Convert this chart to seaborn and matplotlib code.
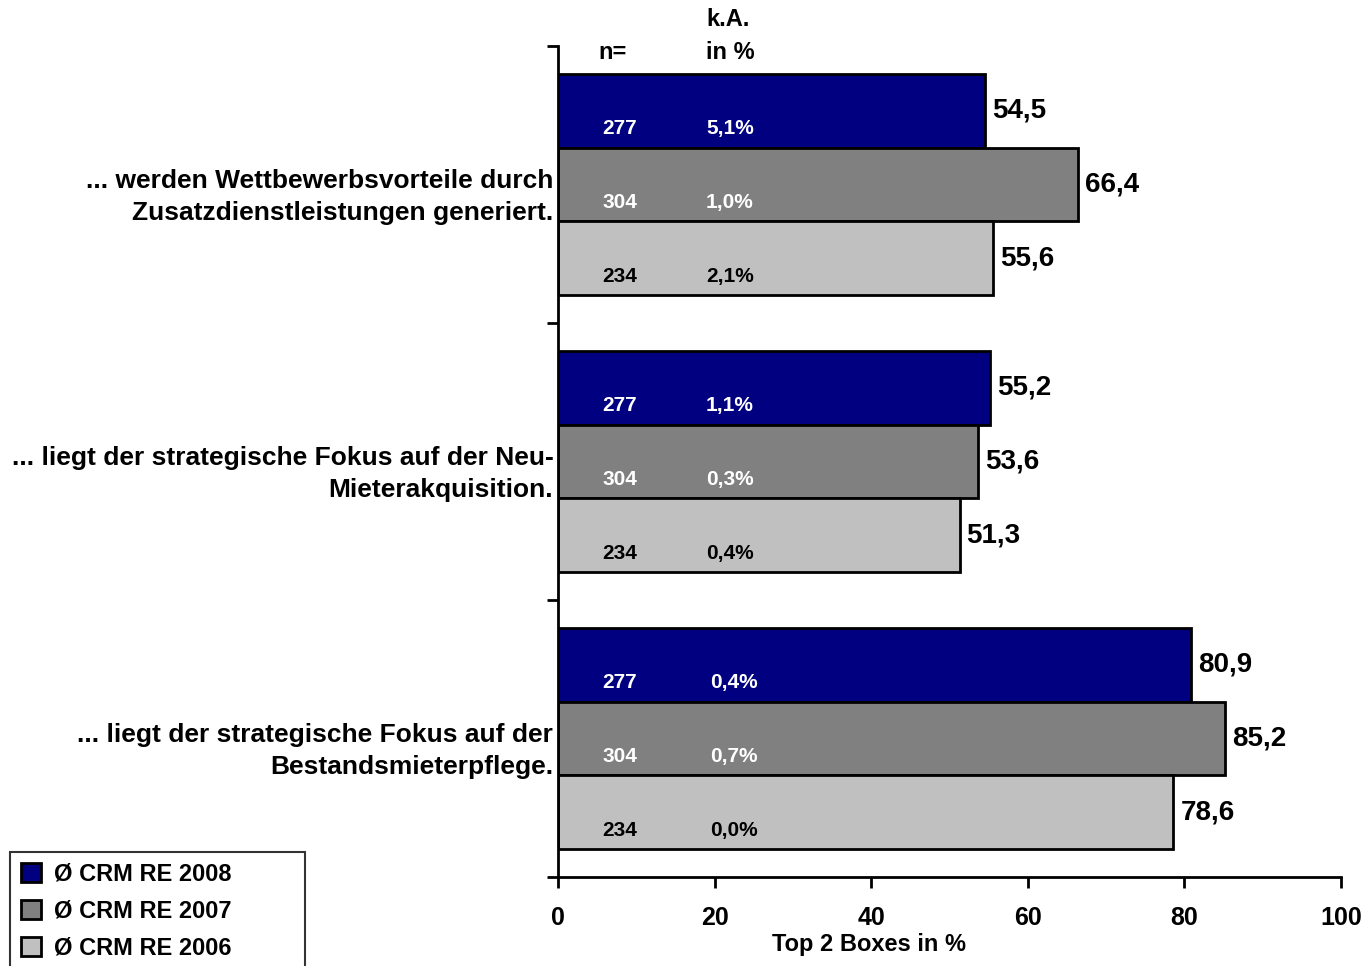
import pandas as pd
import matplotlib.pyplot as plt
import matplotlib.transforms as mtransforms
import seaborn as sns

# ---------- Daten ----------
categories = [
    "... werden Wettbewerbsvorteile durch\nZusatzdienstleistungen generiert.",
    "... liegt der strategische Fokus auf der Neu-\nMieterakquisition.",
    "... liegt der strategische Fokus auf der\nBestandsmieterpflege.",
]
series = ["Ø CRM RE 2008", "Ø CRM RE 2007", "Ø CRM RE 2006"]
values_2008 = [54.5, 55.2, 80.9]
values_2007 = [66.4, 53.6, 85.2]
values_2006 = [55.6, 51.3, 78.6]
n_values = [277, 304, 234]
ka_2008 = ["5,1%", "1,1%", "0,4%"]
ka_2007 = ["1,0%", "0,3%", "0,7%"]
ka_2006 = ["2,1%", "0,4%", "0,0%"]
colors = ["#000080", "#808080", "#C0C0C0"]
text_colors = ["white", "white", "black"]

rows = []
for s, vals in zip(series, [values_2008, values_2007, values_2006]):
    for c, v in zip(categories, vals):
        rows.append({"Kategorie": c, "Jahr": s, "Wert": v})
df = pd.DataFrame(rows)

# ---------- Plot ----------
sns.set_style("white")
plt.rcParams["font.family"] = ["Liberation Sans", "DejaVu Sans"]
plt.rcParams["font.weight"] = "bold"
plt.rcParams["text.color"] = "black"
plt.rcParams["axes.labelcolor"] = "black"
plt.rcParams["xtick.color"] = "black"
plt.rcParams["ytick.color"] = "black"

fig = plt.figure(figsize=(13.65, 9.66), dpi=100)
ax = fig.add_axes([558 / 1365, 89 / 966, 783 / 1365, 831 / 966])

sns.barplot(data=df, y="Kategorie", x="Wert", hue="Jahr", hue_order=series,
            palette=colors, orient="h", width=0.8, edgecolor="black",
            linewidth=2, saturation=1, legend=False, ax=ax)

ax.set_xlim(0, 100)
ax.set_ylim(2.5, -0.5)
ax.set_xticks([0, 20, 40, 60, 80, 100])
ax.set_yticks([-0.5, 0.5, 1.5, 2.5])
ax.set_yticklabels([])
ax.tick_params(axis="x", bottom=True, length=8, width=2, labelsize=18, pad=13,
               direction="out", labelcolor="black")
ax.tick_params(axis="y", left=True, length=8, width=2, direction="out")
for lab in ax.get_xticklabels():
    lab.set_fontweight("bold")
for side in ["top", "right"]:
    ax.spines[side].set_visible(False)
for side in ["left", "bottom"]:
    ax.spines[side].set_linewidth(2)
    ax.spines[side].set_color("black")
ax.set_ylabel("")
ax.set_xlabel("Top 2 Boxes in %", fontsize=17, fontweight="bold", labelpad=0,
              color="black")
ax.xaxis.set_label_coords(0.397, -0.081)
ax.xaxis.label.set_va("center")

# Wertelabels und n / k.A. in den Balken
ka_all = [ka_2008, ka_2007, ka_2006]
for i, cont in enumerate(ax.containers):
    ax.bar_label(cont, labels=[f"{v:.1f}".replace(".", ",") for v in cont.datavalues],
                 padding=5, fontsize=20, fontweight="bold")
    for j, bar in enumerate(cont.patches):
        yc = bar.get_y() + bar.get_height() / 2 + 0.065
        ax.text(5.7, yc, str(n_values[i]), color=text_colors[i], fontsize=15,
                fontweight="bold", va="center", ha="left")
        ax.text(18.9 if j < 2 else 19.4, yc, ka_all[i][j], color=text_colors[i],
                fontsize=15, fontweight="bold", va="center", ha="left")

# Spaltenköpfe
ax.text(5.2, -0.475, "n=", fontsize=17, fontweight="bold", va="center", clip_on=False)
ax.text(18.9, -0.475, "in %", fontsize=17, fontweight="bold", va="center", clip_on=False)
ax.text(18.9, -0.597, "k.A.", fontsize=17, fontweight="bold", va="center", clip_on=False)

# Kategorienbeschriftungen
trans = mtransforms.blended_transform_factory(ax.transAxes, ax.transData)
for k, c in enumerate(categories):
    ax.text(-0.006, k + 0.045, c, transform=trans, ha="right", va="center",
            fontsize=19, fontweight="bold", linespacing=1.45)

# Legende
handles = [plt.Rectangle((0, 0), 1, 1, facecolor=col, edgecolor="black", linewidth=2)
           for col in colors]
leg = fig.legend(handles, series, loc="upper left",
                 bbox_to_anchor=(10 / 1365, 0, 295 / 1365, 1 - 852 / 966),
                 mode="expand", frameon=True, fancybox=False, edgecolor="black",
                 fontsize=17, handlelength=0.85, handleheight=0.85, handletextpad=0.55,
                 labelspacing=0.6, borderpad=0.45, borderaxespad=0)
leg.get_frame().set_linewidth(1.5)
for t in leg.get_texts():
    t.set_fontweight("bold")

fig.savefig("out.png", dpi=100)
